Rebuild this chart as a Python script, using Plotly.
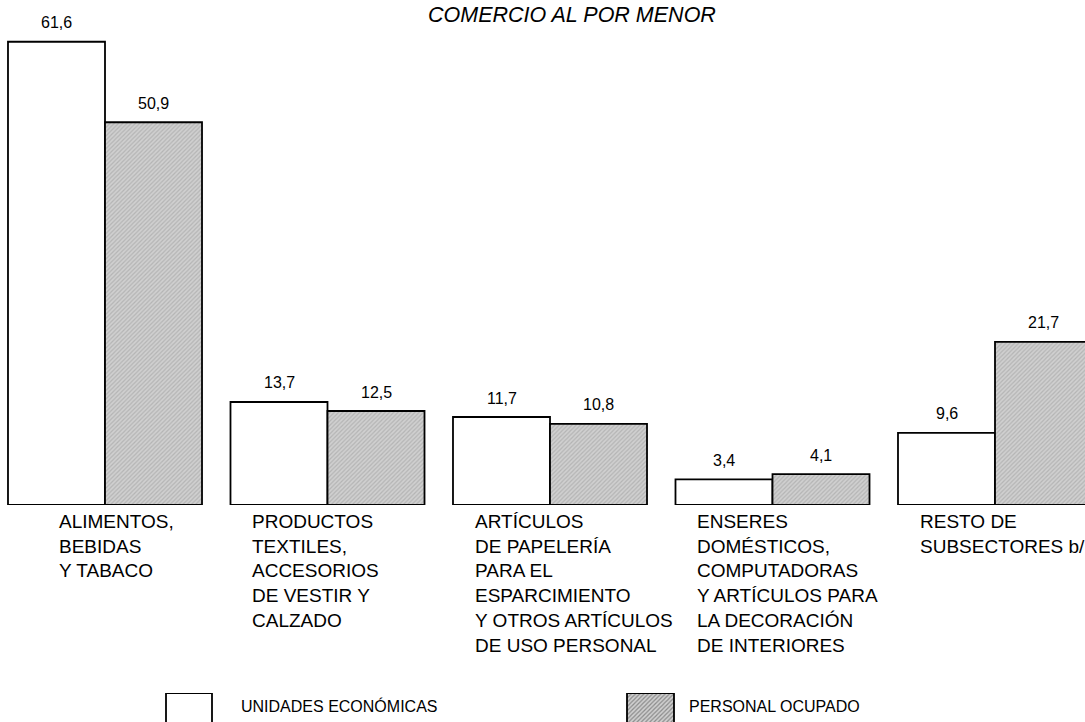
import plotly.graph_objects as go

# Retail trade subsectors: share of economic units vs. employed personnel (%)
categories = [
    "ALIMENTOS,<br>BEBIDAS<br>Y TABACO",
    "PRODUCTOS<br>TEXTILES,<br>ACCESORIOS<br>DE VESTIR Y<br>CALZADO",
    "ARTÍCULOS<br>DE PAPELERÍA<br>PARA EL<br>ESPARCIMIENTO<br>Y OTROS ARTÍCULOS<br>DE USO PERSONAL",
    "ENSERES<br>DOMÉSTICOS,<br>COMPUTADORAS<br>Y ARTÍCULOS PARA<br>LA DECORACIÓN<br>DE INTERIORES",
    "RESTO DE<br>SUBSECTORES b/",
]
unidades = [61.6, 13.7, 11.7, 3.4, 9.6]
personal = [50.9, 12.5, 10.8, 4.1, 21.7]
series_names = ["UNIDADES ECONÓMICAS", "PERSONAL OCUPADO"]
title_text = "COMERCIO AL POR MENOR"

W, H = 1085, 722
FONT = "Liberation Sans, Arial, sans-serif"
BASE_PX = 505          # pixel row of the bar baseline
PX_PER_UNIT = 7.52
BARGAP = 0.128
BAR_W = (1 - BARGAP) / 2

GRAY_BG, GRAY_FG = "#d0d0d0", "#989898"
hatch = dict(shape="/", bgcolor=GRAY_BG, fgcolor=GRAY_FG, size=3, solidity=0.4)
outline = dict(color="black", width=1.8)

x = list(range(len(categories)))

fig = go.Figure()
fig.add_bar(x=x, y=unidades, name=series_names[0],
            marker=dict(color="white", line=outline), showlegend=False)
fig.add_bar(x=x, y=personal, name=series_names[1],
            marker=dict(color=GRAY_BG, pattern=hatch, line=outline), showlegend=False)

# Legend swatches drawn as bars on a strip axis at the bottom
legend_x = [189, 650.5]
fig.add_bar(x=legend_x, y=[1, 1], width=[46, 47], xaxis="x2", yaxis="y2",
            marker=dict(color=["white", GRAY_BG],
                        pattern=dict(shape=["", "/"], bgcolor=GRAY_BG,
                                     fgcolor=GRAY_FG, size=3, solidity=0.4),
                        line=outline),
            showlegend=False, hoverinfo="skip")

ann = []
# value labels above each bar
for i, (u, p) in enumerate(zip(unidades, personal)):
    for val, off in ((u, -BAR_W / 2), (p, BAR_W / 2)):
        ann.append(dict(x=i + off, y=val, xref="x", yref="y",
                        text=f"{val:.1f}".replace(".", ","), showarrow=False,
                        yanchor="middle", yshift=19,
                        font=dict(family=FONT, size=16, color="black")))
# category labels under each group
for i, c in enumerate(categories):
    ann.append(dict(x=i - BAR_W, y=0, xref="x", yref="y", text=c,
                    showarrow=False, xanchor="left", yanchor="top", align="left",
                    xshift=49 if i == 0 else 20, yshift=-4,
                    font=dict(family=FONT, size=19, color="black")))
# legend labels
for lx, name in zip([239, 687], series_names):
    ann.append(dict(x=lx / W, y=1 - 706 / H, xref="paper", yref="paper",
                    text=name, showarrow=False, xanchor="left", yanchor="middle",
                    font=dict(family=FONT, size=16, color="black")))
# title
ann.append(dict(x=572 / W, y=1 - 15 / H, xref="paper", yref="paper",
                text=f"<i>{title_text}</i>", showarrow=False,
                xanchor="center", yanchor="middle",
                font=dict(family=FONT, size=21.5, color="black")))

fig.update_layout(
    width=W, height=H,
    margin=dict(l=0, r=0, t=0, b=0),
    paper_bgcolor="white", plot_bgcolor="rgba(0,0,0,0)",
    barmode="group", bargap=BARGAP, bargroupgap=0,
    annotations=ann,
    xaxis=dict(range=[(0 - 105) / 222.5, (W - 105) / 222.5], visible=False,
               fixedrange=True),
    yaxis=dict(domain=[1 - BASE_PX / H, 1], range=[0, BASE_PX / PX_PER_UNIT],
               visible=False, fixedrange=True),
    xaxis2=dict(domain=[0, 1], range=[0, W], anchor="y2", visible=False),
    yaxis2=dict(domain=[0, 1 - 693 / H], range=[0.3, 1], anchor="x2",
                visible=False),
)

fig.write_html("out.html")
